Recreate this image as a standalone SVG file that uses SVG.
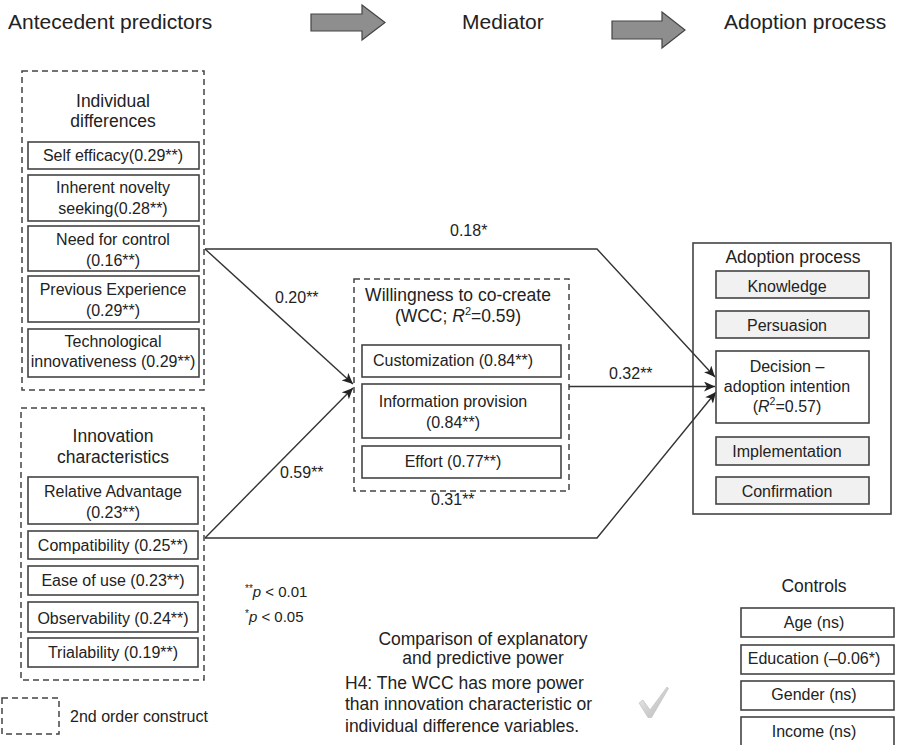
<svg xmlns="http://www.w3.org/2000/svg" width="897" height="745" viewBox="0 0 897 745">
<style>
text{font-family:"Liberation Sans",Arial,sans-serif;fill:#222;}
.h{font-size:21px;}
.t{font-size:17.5px;text-anchor:middle;}
.b{font-size:16px;text-anchor:middle;}
.l{font-size:16px;}
.box{fill:#fff;stroke:#444;stroke-width:1.6;}
.obox{fill:none;stroke:#444;stroke-width:1.6;}
.gbox{fill:#f1f1f1;stroke:#444;stroke-width:1.6;}
.dash{fill:none;stroke:#444;stroke-width:1.5;stroke-dasharray:6 4;}
.conn{fill:none;stroke:#333;stroke-width:1.4;}
.big{fill:#8e8e8e;stroke:#444;stroke-width:1.2;}
.i{font-style:italic;}
</style>
<defs>
<marker id="ah" markerUnits="userSpaceOnUse" markerWidth="11" markerHeight="10" refX="11" refY="5" orient="auto">
<path d="M0,0 L11,5 L0,10 L3,5 z" fill="#222"/>
</marker>
<linearGradient id="chk" x1="0" y1="0" x2="1" y2="1">
<stop offset="0" stop-color="#ececec"/>
<stop offset="1" stop-color="#b8b8b8"/>
</linearGradient>
</defs>

<g id="header">
<text class="h" x="8" y="29">Antecedent predictors</text>
<polygon class="big" points="311,14 362,14 362,5 385,22.5 362,40 362,31 311,31"/>
<text class="h" x="462" y="29">Mediator</text>
<polygon class="big" points="612,21 662,21 662,12 685,30 662,48 662,39 612,39"/>
<text class="h" x="724" y="29">Adoption process</text>
</g>

<g id="adoption-process">
<rect class="obox" x="693" y="243" width="198" height="271"/>
<text class="t" x="793" y="263" font-size="18">Adoption process</text>
</g>

<g id="connectors">
<polyline class="conn" points="205,249 597,249 715,377" marker-end="url(#ah)"/>
<line class="conn" x1="205" y1="249" x2="353" y2="384" marker-end="url(#ah)"/>
<line class="conn" x1="205" y1="538" x2="353" y2="388" marker-end="url(#ah)"/>
<polyline class="conn" points="205,538 597,538 716,392" marker-end="url(#ah)"/>
<line class="conn" x1="569" y1="386.5" x2="715" y2="386.5" marker-end="url(#ah)"/>
<text class="l" x="450" y="236">0.18*</text>
<text class="l" x="275" y="303">0.20**</text>
<text class="l" x="280" y="478">0.59**</text>
<text class="l" x="431" y="505">0.31**</text>
<text class="l" x="609" y="379">0.32**</text>
</g>

<g id="individual-differences">
<rect class="dash" x="22" y="71" width="182" height="319"/>
<text class="t" x="113" y="107">Individual</text>
<text class="t" x="113" y="127">differences</text>
</g>
<g id="self-efficacy">
<rect class="box" x="28" y="142" width="171" height="27"/>
<text class="b" x="113" y="161">Self efficacy(0.29**)</text>
</g>
<g id="novelty-seeking">
<rect class="box" x="28" y="175" width="171" height="46"/>
<text class="b" x="113" y="193">Inherent novelty</text>
<text class="b" x="113" y="214">seeking(0.28**)</text>
</g>
<g id="need-for-control">
<rect class="box" x="28" y="226" width="171" height="45"/>
<text class="b" x="113" y="245">Need for control</text>
<text class="b" x="113" y="266">(0.16**)</text>
</g>
<g id="previous-experience">
<rect class="box" x="28" y="276" width="171" height="46"/>
<text class="b" x="113" y="295">Previous Experience</text>
<text class="b" x="113" y="316">(0.29**)</text>
</g>
<g id="tech-innovativeness">
<rect class="box" x="28" y="329" width="171" height="48"/>
<text class="b" x="113" y="347">Technological</text>
<text class="b" x="113" y="367">innovativeness (0.29**)</text>
</g>

<g id="innovation-characteristics">
<rect class="dash" x="21" y="408" width="183" height="272"/>
<text class="t" x="113" y="442">Innovation</text>
<text class="t" x="113" y="463">characteristics</text>
</g>
<g id="relative-advantage">
<rect class="box" x="28" y="477" width="170" height="47"/>
<text class="b" x="113" y="497">Relative Advantage</text>
<text class="b" x="113" y="518">(0.23**)</text>
</g>
<g id="compatibility">
<rect class="box" x="28" y="531" width="170" height="28"/>
<text class="b" x="113" y="551">Compatibility (0.25**)</text>
</g>
<g id="ease-of-use">
<rect class="box" x="28" y="566" width="170" height="29"/>
<text class="b" x="113" y="586">Ease of use (0.23**)</text>
</g>
<g id="observability">
<rect class="box" x="28" y="602" width="170" height="30"/>
<text class="b" x="113" y="624">Observability (0.24**)</text>
</g>
<g id="trialability">
<rect class="box" x="28" y="638" width="170" height="29"/>
<text class="b" x="113" y="658">Trialability (0.19**)</text>
</g>

<g id="wcc">
<rect class="dash" x="354" y="279" width="215" height="212"/>
<text class="t" x="458" y="301">Willingness to co-create</text>
<text class="t" x="458" y="322">(WCC; <tspan class="i">R</tspan><tspan font-size="11" dy="-7">2</tspan><tspan dy="7">=0.59)</tspan></text>
</g>
<g id="customization">
<rect class="box" x="362" y="345" width="199" height="32"/>
<text class="b" x="453" y="366">Customization (0.84**)</text>
</g>
<g id="information-provision">
<rect class="box" x="362" y="384" width="199" height="54"/>
<text class="b" x="453" y="407">Information provision</text>
<text class="b" x="453" y="428">(0.84**)</text>
</g>
<g id="effort">
<rect class="box" x="362" y="446" width="199" height="32"/>
<text class="b" x="453" y="467">Effort (0.77**)</text>
</g>

<g id="knowledge">
<rect class="gbox" x="716" y="271" width="153" height="27"/>
<text class="b" x="787" y="292">Knowledge</text>
</g>
<g id="persuasion">
<rect class="gbox" x="716" y="311" width="153" height="27"/>
<text class="b" x="787" y="331">Persuasion</text>
</g>
<g id="decision">
<rect class="box" x="716" y="351" width="153" height="72"/>
<text class="b" x="787" y="372">Decision –</text>
<text class="b" x="787" y="392">adoption intention</text>
<text class="b" x="787" y="412">(<tspan class="i">R</tspan><tspan font-size="10.5" dy="-7">2</tspan><tspan dy="7">=0.57)</tspan></text>
</g>
<g id="implementation">
<rect class="gbox" x="716" y="437" width="153" height="28"/>
<text class="b" x="787" y="457">Implementation</text>
</g>
<g id="confirmation">
<rect class="gbox" x="716" y="477" width="153" height="27"/>
<text class="b" x="787" y="497">Confirmation</text>
</g>

<g id="significance-legend">
<text font-size="15" x="245" y="597"><tspan font-size="10" dy="-5">**</tspan><tspan class="i" dy="5">p</tspan> &lt; 0.01</text>
<text font-size="15" x="245" y="622"><tspan font-size="10" dy="-5">*</tspan><tspan class="i" dy="5">p</tspan> &lt; 0.05</text>
</g>

<g id="comparison">
<text class="t" x="483" y="645">Comparison of explanatory</text>
<text class="t" x="483" y="664">and predictive power</text>
<text font-size="17.5" x="345" y="689">H4: The WCC has more power</text>
<text font-size="17.5" x="345" y="710">than innovation characteristic or</text>
<text font-size="17.5" x="345" y="732">individual difference variables.</text>
<polygon points="639,703 643,700 650,710 667,687 668.5,688.5 651.5,717.5 648,717.5" fill="url(#chk)" stroke="#bcbcbc" stroke-width="0.6"/>
</g>

<g id="controls">
<text class="t" x="814" y="592">Controls</text>
</g>
<g id="age">
<rect class="box" x="741" y="608" width="153" height="29"/>
<text class="b" x="814" y="628">Age (ns)</text>
</g>
<g id="education">
<rect class="box" x="741" y="645" width="153" height="29"/>
<text class="b" x="814" y="664">Education (–0.06*)</text>
</g>
<g id="gender">
<rect class="box" x="741" y="681" width="153" height="29"/>
<text class="b" x="814" y="700">Gender (ns)</text>
</g>
<g id="income">
<rect class="box" x="741" y="717" width="153" height="32"/>
<text class="b" x="814" y="737">Income (ns)</text>
</g>

<g id="construct-legend">
<rect class="dash" x="2" y="698" width="57" height="36"/>
<text font-size="16" x="70" y="722">2nd order construct</text>
</g>
</svg>
